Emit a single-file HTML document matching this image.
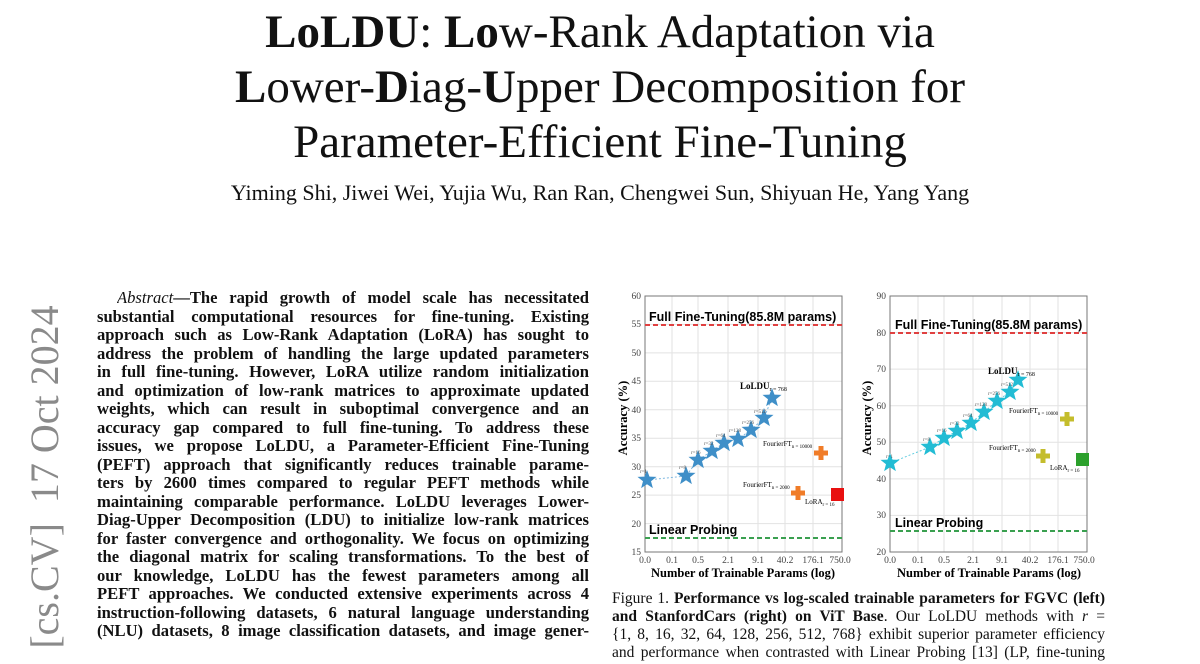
<!DOCTYPE html>
<html><head><meta charset="utf-8"><style>
body{margin:0;width:1200px;height:648px;overflow:hidden;background:#fff;position:relative;font-family:"Liberation Serif",serif;color:#111}
.t{position:absolute;left:0;width:1200px;text-align:center;font-size:47px;line-height:55px;white-space:nowrap}
.a{position:absolute;left:97px;width:492px;font-weight:bold;font-size:16.6px;line-height:18px;height:20px;overflow:hidden;text-align:justify;text-align-last:justify;white-space:nowrap}
.c{position:absolute;left:612px;width:493px;font-size:15.5px;line-height:18px;height:20px;overflow:hidden;text-align:justify;text-align-last:justify;white-space:nowrap}
</style></head><body>
<div class="t" style="top:5px"><b>LoLDU</b>: <b>Lo</b>w-Rank Adaptation via</div>
<div class="t" style="top:60px"><b>L</b>ower-<b>D</b>iag-<b>U</b>pper Decomposition for</div>
<div class="t" style="top:115px">Parameter-Efficient Fine-Tuning</div>
<div style="position:absolute;top:180px;left:0;width:1200px;text-align:center;font-size:22px;line-height:26px">Yiming Shi, Jiwei Wei, Yujia Wu, Ran Ran, Chengwei Sun, Shiyuan He, Yang Yang</div>
<div style="position:absolute;left:45px;top:477px;transform:translate(-50%,-50%) rotate(-90deg);font-size:40px;color:#8a8a8a;white-space:nowrap;line-height:40px">[cs.CV]&nbsp;&nbsp;17 Oct 2024</div>

<div class="a" style="top:289px;left:117px;width:472px"><i style="font-weight:normal">Abstract</i>—The rapid growth of model scale has necessitated</div>
<div class="a" style="top:308px">substantial computational resources for fine-tuning. Existing</div>
<div class="a" style="top:326px">approach such as Low-Rank Adaptation (LoRA) has sought to</div>
<div class="a" style="top:345px">address the problem of handling the large updated parameters</div>
<div class="a" style="top:363px">in full fine-tuning. However, LoRA utilize random initialization</div>
<div class="a" style="top:382px">and optimization of low-rank matrices to approximate updated</div>
<div class="a" style="top:400px">weights, which can result in suboptimal convergence and an</div>
<div class="a" style="top:419px">accuracy gap compared to full fine-tuning. To address these</div>
<div class="a" style="top:437px">issues, we propose LoLDU, a Parameter-Efficient Fine-Tuning</div>
<div class="a" style="top:456px">(PEFT) approach that significantly reduces trainable parame-</div>
<div class="a" style="top:474px">ters by 2600 times compared to regular PEFT methods while</div>
<div class="a" style="top:493px">maintaining comparable performance. LoLDU leverages Lower-</div>
<div class="a" style="top:511px">Diag-Upper Decomposition (LDU) to initialize low-rank matrices</div>
<div class="a" style="top:530px">for faster convergence and orthogonality. We focus on optimizing</div>
<div class="a" style="top:548px">the diagonal matrix for scaling transformations. To the best of</div>
<div class="a" style="top:567px">our knowledge, LoLDU has the fewest parameters among all</div>
<div class="a" style="top:585px">PEFT approaches. We conducted extensive experiments across 4</div>
<div class="a" style="top:604px">instruction-following datasets, 6 natural language understanding</div>
<div class="a" style="top:622px">(NLU) datasets, 8 image classification datasets, and image gener-</div>

<div class="c" style="top:590px">Figure 1. <b>Performance vs log-scaled trainable parameters for FGVC (left)</b></div>
<div class="c" style="top:608px"><b>and StanfordCars (right) on ViT Base</b>. Our LoLDU methods with <i>r</i> =</div>
<div class="c" style="top:626px">{1, 8, 16, 32, 64, 128, 256, 512, 768} exhibit superior parameter efficiency</div>
<div class="c" style="top:644px">and performance when contrasted with Linear Probing [13] (LP, fine-tuning</div>

<svg style="position:absolute;left:0;top:0" width="1200" height="648" font-family="Liberation Serif, serif">
<defs>
<polygon id="st" points="0,-10 2.48,-3.41 9.51,-3.09 4.01,1.3 5.88,8.09 0,4.22 -5.88,8.09 -4.01,1.3 -9.51,-3.09 -2.48,-3.41"/>
<path id="pl" d="M-2.5,-7h5v4.5h4.5v5h-4.5v4.5h-5v-4.5h-4.5v-5h4.5z"/>
</defs>
<g stroke="#e2e2e2" stroke-width="1">
<line x1="645" x2="842" y1="324.4" y2="324.4"/><line x1="645" x2="842" y1="352.9" y2="352.9"/><line x1="645" x2="842" y1="381.3" y2="381.3"/><line x1="645" x2="842" y1="409.8" y2="409.8"/><line x1="645" x2="842" y1="438.2" y2="438.2"/><line x1="645" x2="842" y1="466.7" y2="466.7"/><line x1="645" x2="842" y1="495.1" y2="495.1"/><line x1="645" x2="842" y1="523.6" y2="523.6"/>
<line x1="672" x2="672" y1="296" y2="552"/><line x1="698" x2="698" y1="296" y2="552"/><line x1="728" x2="728" y1="296" y2="552"/><line x1="758" x2="758" y1="296" y2="552"/><line x1="785" x2="785" y1="296" y2="552"/><line x1="813" x2="813" y1="296" y2="552"/>
</g>
<rect x="645" y="296" width="197" height="256" fill="none" stroke="#777" stroke-width="1"/>
<line x1="645" x2="842" y1="325" y2="325" stroke="#e04040" stroke-width="2" stroke-dasharray="5,3"/>
<line x1="645" x2="842" y1="538" y2="538" stroke="#3aa050" stroke-width="2" stroke-dasharray="5,3"/>
<text x="649" y="321" font-family="Liberation Sans, sans-serif" font-weight="bold" font-size="12.5">Full Fine-Tuning(85.8M params)</text>
<text x="649" y="534" font-family="Liberation Sans, sans-serif" font-weight="bold" font-size="12.5">Linear Probing</text>
<g font-size="9.5" fill="#444" text-anchor="end">
<text x="641" y="299">60</text><text x="641" y="327">55</text><text x="641" y="356">50</text><text x="641" y="384">45</text><text x="641" y="413">40</text><text x="641" y="441">35</text><text x="641" y="470">30</text><text x="641" y="498">25</text><text x="641" y="527">20</text><text x="641" y="555">15</text>
</g>
<g font-size="9.5" fill="#444" text-anchor="middle">
<text x="645" y="563">0.0</text><text x="672" y="563">0.1</text><text x="698" y="563">0.5</text><text x="728" y="563">2.1</text><text x="758" y="563">9.1</text><text x="785" y="563">40.2</text><text x="813" y="563">176.1</text><text x="840" y="563">750.0</text>
</g>
<text x="743" y="577" text-anchor="middle" font-weight="bold" font-size="12.5">Number of Trainable Params (log)</text>
<text transform="translate(627,418) rotate(-90)" text-anchor="middle" font-weight="bold" font-size="12.5">Accuracy (%)</text>
<polyline points="647,480 686,476 698,460 712,451 724,443 738,439 751,430 764,418 772,398" fill="none" stroke="#7fb8e0" stroke-width="1" stroke-dasharray="2,2"/>
<g fill="#3f8fc8">
<use href="#st" x="647" y="480"/><use href="#st" x="686" y="476"/><use href="#st" x="698" y="460"/><use href="#st" x="712" y="451"/><use href="#st" x="724" y="443"/><use href="#st" x="738" y="439"/><use href="#st" x="751" y="430"/><use href="#st" x="764" y="418"/><use href="#st" x="772" y="398"/>
</g>
<g font-size="5" fill="#555"><text x="640" y="473">r=1</text><text x="679" y="469">r=8</text><text x="691" y="454">r=16</text><text x="704" y="445">r=32</text><text x="716" y="437">r=64</text><text x="729" y="432">r=128</text><text x="742" y="424">r=256</text><text x="754" y="413">r=512</text></g>
<text x="740" y="389" font-size="9" font-weight="bold">LoLDU<tspan font-size="6" font-weight="normal" dy="2">r = 768</tspan></text>
<text x="763" y="446" font-size="7">FourierFT<tspan font-size="5" dy="2">n = 10000</tspan></text>
<text x="743" y="487" font-size="7">FourierFT<tspan font-size="5" dy="2">n = 2000</tspan></text>
<text x="805" y="504" font-size="7">LoRA<tspan font-size="5" dy="2">r = 16</tspan></text>
<g fill="#f07c28"><use href="#pl" x="821" y="453"/><use href="#pl" x="798" y="493"/></g>
<rect x="831" y="488" width="13" height="13" fill="#e81010"/>

<g stroke="#e2e2e2" stroke-width="1">
<line x1="890" x2="1087" y1="332.6" y2="332.6"/><line x1="890" x2="1087" y1="369.1" y2="369.1"/><line x1="890" x2="1087" y1="405.7" y2="405.7"/><line x1="890" x2="1087" y1="442.3" y2="442.3"/><line x1="890" x2="1087" y1="478.9" y2="478.9"/><line x1="890" x2="1087" y1="515.4" y2="515.4"/>
<line x1="918" x2="918" y1="296" y2="552"/><line x1="944" x2="944" y1="296" y2="552"/><line x1="973" x2="973" y1="296" y2="552"/><line x1="1002" x2="1002" y1="296" y2="552"/><line x1="1030" x2="1030" y1="296" y2="552"/><line x1="1058" x2="1058" y1="296" y2="552"/>
</g>
<rect x="890" y="296" width="197" height="256" fill="none" stroke="#777" stroke-width="1"/>
<line x1="890" x2="1087" y1="333" y2="333" stroke="#e04040" stroke-width="2" stroke-dasharray="5,3"/>
<line x1="890" x2="1087" y1="531" y2="531" stroke="#3aa050" stroke-width="2" stroke-dasharray="5,3"/>
<text x="895" y="329" font-family="Liberation Sans, sans-serif" font-weight="bold" font-size="12.5">Full Fine-Tuning(85.8M params)</text>
<text x="895" y="527" font-family="Liberation Sans, sans-serif" font-weight="bold" font-size="12.5">Linear Probing</text>
<g font-size="9.5" fill="#444" text-anchor="end">
<text x="886" y="299">90</text><text x="886" y="336">80</text><text x="886" y="372">70</text><text x="886" y="409">60</text><text x="886" y="445">50</text><text x="886" y="482">40</text><text x="886" y="518">30</text><text x="886" y="555">20</text>
</g>
<g font-size="9.5" fill="#444" text-anchor="middle">
<text x="890" y="563">0.0</text><text x="918" y="563">0.1</text><text x="944" y="563">0.5</text><text x="973" y="563">2.1</text><text x="1002" y="563">9.1</text><text x="1030" y="563">40.2</text><text x="1058" y="563">176.1</text><text x="1084" y="563">750.0</text>
</g>
<text x="989" y="577" text-anchor="middle" font-weight="bold" font-size="12.5">Number of Trainable Params (log)</text>
<text transform="translate(871,418) rotate(-90)" text-anchor="middle" font-weight="bold" font-size="12.5">Accuracy (%)</text>
<polyline points="890,463 930,447 944,438 957,431 971,423 984,412 997,401 1010,392 1018,380" fill="none" stroke="#60cde0" stroke-width="1" stroke-dasharray="2,2"/>
<g fill="#22bcd4">
<use href="#st" x="890" y="463"/><use href="#st" x="930" y="447"/><use href="#st" x="944" y="438"/><use href="#st" x="957" y="431"/><use href="#st" x="971" y="423"/><use href="#st" x="984" y="412"/><use href="#st" x="997" y="401"/><use href="#st" x="1010" y="392"/><use href="#st" x="1018" y="380"/>
</g>
<g font-size="5" fill="#555"><text x="886" y="458">r=1</text><text x="923" y="441">r=8</text><text x="937" y="432">r=16</text><text x="950" y="425">r=32</text><text x="963" y="417">r=64</text><text x="975" y="406">r=128</text><text x="988" y="395">r=256</text><text x="1001" y="386">r=512</text></g>
<text x="988" y="374" font-size="9" font-weight="bold">LoLDU<tspan font-size="6" font-weight="normal" dy="2">r = 768</tspan></text>
<text x="1009" y="413" font-size="7">FourierFT<tspan font-size="5" dy="2">n = 10000</tspan></text>
<text x="989" y="450" font-size="7">FourierFT<tspan font-size="5" dy="2">n = 2000</tspan></text>
<text x="1050" y="470" font-size="7">LoRA<tspan font-size="5" dy="2">r = 16</tspan></text>
<g fill="#c4bd2c"><use href="#pl" x="1067" y="419"/><use href="#pl" x="1043" y="456"/></g>
<rect x="1076" y="453" width="13" height="13" fill="#2ca02c"/>
</svg>
</body></html>
